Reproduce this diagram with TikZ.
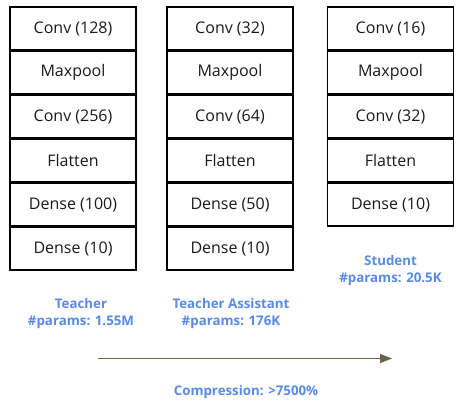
\documentclass[tikz,border=0pt]{standalone}
\usepackage{fontspec}
\setmainfont{Open Sans}
\usepackage{tikz}
\usetikzlibrary{positioning,arrows.meta}
\definecolor{labelblue}{RGB}{88,138,230}
\definecolor{arrowbrown}{RGB}{108,98,80}

\begin{document}
\begin{tikzpicture}[
  x=1pt,y=-1pt,
  every node/.style={font=\fontsize{16}{19}\selectfont},
  layer/.style={draw=black,line width=1.2pt,minimum width=126pt,minimum height=43pt,inner sep=0pt,text=black!90},
  modelname/.style={labelblue,align=center,font=\fontsize{13.3}{17}\selectfont\bfseries},
  comparrow/.style={arrowbrown,line width=1.5pt,-{Triangle[length=12pt,width=9pt]}}
]
  \useasboundingbox (0,0) rectangle (466,407);

  % Teacher
  \node[layer] (t1) at (73,28.5)  {Conv (128)};
  \node[layer] (t2) at (73,72.5)  {Maxpool};
  \node[layer] (t3) at (73,116.5) {Conv (256)};
  \node[layer] (t4) at (73,160.5) {Flatten};
  \node[layer] (t5) at (73,204.5) {Dense (100)};
  \node[layer] (t6) at (73,248.5) {Dense (10)};

  % Teacher Assistant
  \node[layer] (ta1) at (230,28.5)  {Conv (32)};
  \node[layer] (ta2) at (230,72.5)  {Maxpool};
  \node[layer] (ta3) at (230,116.5) {Conv (64)};
  \node[layer] (ta4) at (230,160.5) {Flatten};
  \node[layer] (ta5) at (230,204.5) {Dense (50)};
  \node[layer] (ta6) at (230,248.5) {Dense (10)};

  % Student
  \node[layer] (s1) at (390.5,28.5)  {Conv (16)};
  \node[layer] (s2) at (390.5,72.5)  {Maxpool};
  \node[layer] (s3) at (390.5,116.5) {Conv (32)};
  \node[layer] (s4) at (390.5,160.5) {Flatten};
  \node[layer] (s5) at (390.5,204.5) {Dense (10)};

  % Parameter counts
  \node[modelname] (tlabel) at (81,313.5)
    {Teacher\\\#params: 1.55M};
  \node[modelname] (talabel) at (231,313.5)
    {Teacher Assistant\\\#params: 176K};
  \node[modelname] (slabel) at (390.5,270.5)
    {Student\\\#params: 20.5K};

  % Compression
  \coordinate (cfrom) at (98,358.5);
  \coordinate (cto) at (392,358.5);
  \draw[comparrow] (cfrom) -- (cto);
  \node[modelname] (compression) at (246,392)
    {Compression: >7500\%};
\end{tikzpicture}
\end{document}
